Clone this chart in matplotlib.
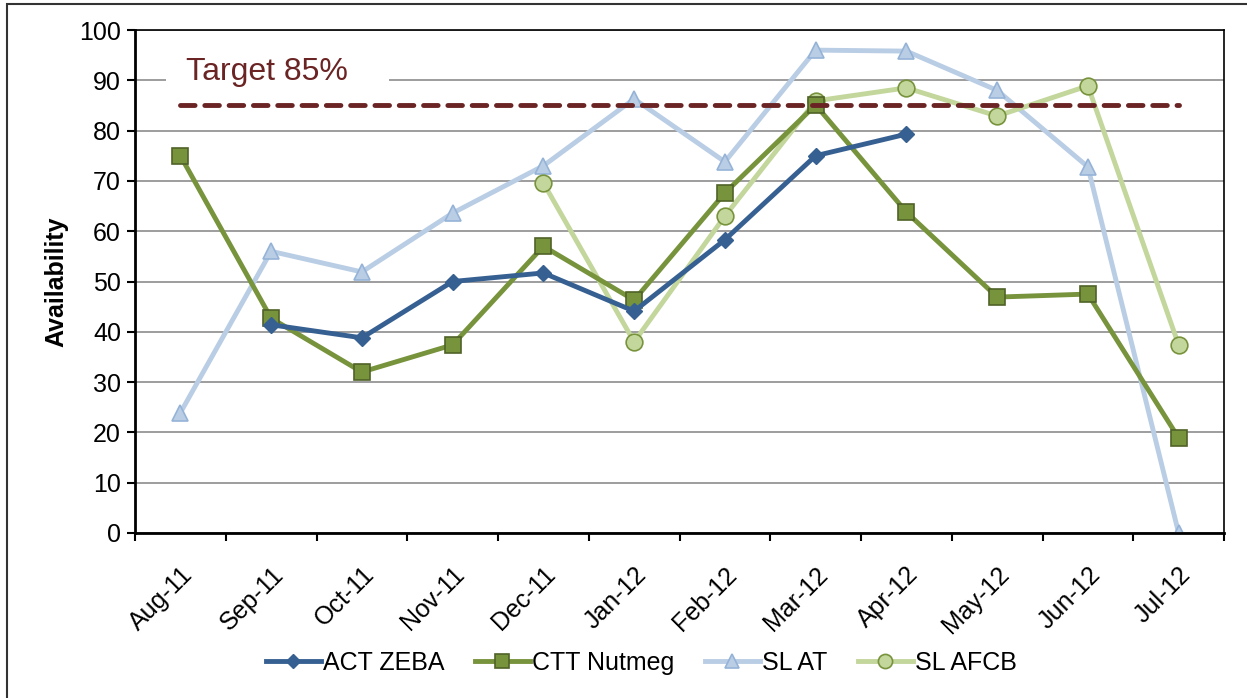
import numpy as np
import matplotlib
matplotlib.use("Agg")
import matplotlib.pyplot as plt
from matplotlib.patches import Rectangle

plt.rcParams['font.family'] = ['Liberation Sans', 'DejaVu Sans']

months = ["Aug-11", "Sep-11", "Oct-11", "Nov-11", "Dec-11", "Jan-12",
          "Feb-12", "Mar-12", "Apr-12", "May-12", "Jun-12", "Jul-12"]

act_zeba = [np.nan, 41.4, 38.8, 50.0, 51.7, 44.1, 58.3, 75.0, 79.3, np.nan, np.nan, np.nan]
ctt_nutmeg = [75.0, 42.7, 32.0, 37.4, 57.0, 46.3, 67.6, 85.1, 63.8, 46.9, 47.5, 18.9]
sl_at = [23.9, 56.0, 51.9, 63.6, 73.0, 86.3, 73.8, 96.0, 95.8, 88.0, 72.8, 0.0]
sl_afcb = [np.nan, np.nan, np.nan, np.nan, 69.6, 38.0, 63.0, 85.9, 88.5, 82.9, 88.9, 37.4]
target = 85

fig = plt.figure(figsize=(12.47, 6.98), dpi=100)
ax = fig.add_axes([135 / 1247, 1 - 533 / 698, (1224 - 135) / 1247, (533 - 30) / 698])

# outer chart frame (only top/left visible in the original)
fig.patches.append(Rectangle((7 / 1247, -0.1), 1.2, 1 - 4 / 698 + 0.1,
                             transform=fig.transFigure, fill=False,
                             edgecolor="#333333", linewidth=1.5))

x = np.arange(len(months))

ax.plot(x, act_zeba, color="#376092", lw=3.5, marker="D", ms=8,
        mfc="#376092", mec="#376092", label="ACT ZEBA", zorder=5)
ax.plot(x, ctt_nutmeg, color="#77933C", lw=3.5, marker="s", ms=12,
        mfc="#77933C", mec="#4F6228", mew=1.2, label="CTT Nutmeg", zorder=4)
ax.plot(x, sl_at, color="#B9CDE5", lw=3.5, marker="^", ms=12,
        mfc="#B9CDE5", mec="#95B3D7", mew=1.2, label="SL AT", zorder=2)
ax.plot(x, sl_afcb, color="#C3D69B", lw=3.5, marker="o", ms=12,
        mfc="#C3D69B", mec="#77933C", mew=1.2, label="SL AFCB", zorder=3)

ax.plot(x, [target] * len(x), color="#6B2424", lw=3.5, ls=(0, (3, 2)),
        dash_capstyle="round", zorder=6)
# white box hides the 90 gridline behind the label
ax.axhspan(88, 96, xmin=(166 - 135) / 1089, xmax=(389 - 135) / 1089,
           facecolor="white", edgecolor="none", zorder=1)
ax.text(0.06, 91.6, "Target 85%", fontsize=23, color="#6B2424",
        va="center", ha="left", zorder=7)

ax.set_xlim(-0.5, len(months) - 0.5)
ax.set_ylim(0, 100)
ax.set_yticks(range(0, 101, 10))
ax.set_xticks(x)
ax.set_xticklabels(months, rotation=45, ha="right", rotation_mode="anchor", fontsize=18)
ax.set_xticks(np.arange(-0.5, len(months), 1), minor=True)
ax.tick_params(axis="x", which="major", length=0, pad=21)
ax.tick_params(axis="x", which="minor", length=6, width=1.5, direction="out")
ax.tick_params(axis="y", length=6, width=1.5, labelsize=18, pad=4)
ax.grid(axis="y", color="#8C8C8C", lw=1.2, zorder=0)
ax.set_axisbelow(True)
for s in ax.spines.values():
    s.set_linewidth(1.2)
ax.spines["left"].set_linewidth(2)
ax.spines["bottom"].set_linewidth(2)

ax.set_ylabel("Availability", fontsize=18, fontweight="bold", labelpad=8)

ax.legend(loc="center", bbox_to_anchor=(0.465, -0.258), ncol=4, frameon=False,
          fontsize=18, handlelength=2.2, handletextpad=0.1, columnspacing=1.2,
          markerscale=0.85)

fig.savefig("out.png", dpi=100)
